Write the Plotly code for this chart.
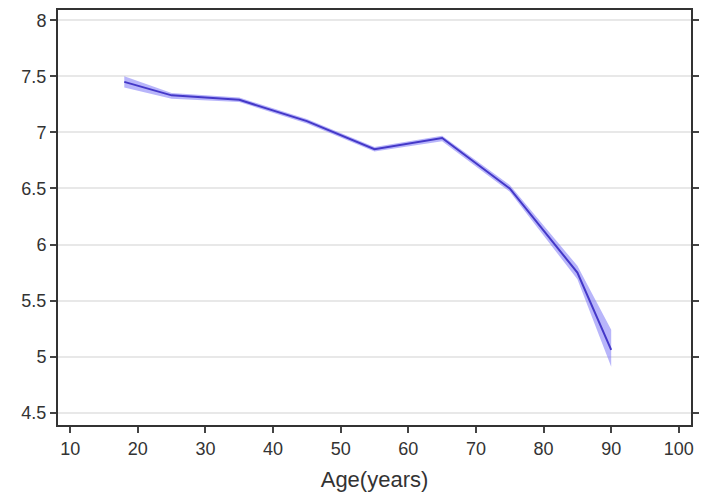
import plotly.graph_objects as go

age = [18, 25, 35, 45, 55, 65, 75, 85, 90]
mean_val = [7.45, 7.33, 7.29, 7.10, 6.85, 6.95, 6.50, 5.75, 5.06]
upper = [7.50, 7.35, 7.31, 7.12, 6.87, 6.97, 6.53, 5.81, 5.24]
lower = [7.40, 7.30, 7.27, 7.08, 6.83, 6.92, 6.47, 5.69, 4.91]

x_ticks = [10, 20, 30, 40, 50, 60, 70, 80, 90, 100]
y_ticks = [4.5, 5, 5.5, 6, 6.5, 7, 7.5, 8]
y_tick_text = ["4.5", "5", "5.5", "6", "6.5", "7", "7.5", "8"]

fig = go.Figure()
fig.add_trace(go.Scatter(x=age, y=lower, mode="lines", line=dict(width=0),
                         showlegend=False, hoverinfo="skip"))
fig.add_trace(go.Scatter(x=age, y=upper, mode="lines", line=dict(width=0),
                         fill="tonexty", fillcolor="rgba(125,120,245,0.55)",
                         showlegend=False, hoverinfo="skip"))
fig.add_trace(go.Scatter(x=age, y=mean_val, mode="lines",
                         line=dict(color="#4438c8", width=2), showlegend=False))

fig.update_layout(
    width=728, height=502,
    margin=dict(l=50, r=45, t=0, b=85),
    paper_bgcolor="white", plot_bgcolor="white",
    font=dict(family="Liberation Sans, Arial, sans-serif", color="#333333", size=18),
)
fig.update_xaxes(
    range=[8.2, 101.8], tickvals=x_ticks, ticks="outside", ticklen=6, tickwidth=1.5,
    tickcolor="#444444", showline=True, linecolor="#333333", linewidth=2, mirror=True,
    showgrid=False, zeroline=False, tickfont=dict(size=18),
    title=dict(text="Age(years)", font=dict(size=22), standoff=14),
)
fig.update_yaxes(
    range=[4.391, 8.091], tickvals=y_ticks, ticktext=y_tick_text, ticks="outside", ticklen=6,
    tickwidth=1.5, tickcolor="#444444", showline=True, linecolor="#333333", linewidth=2,
    mirror="ticks", showgrid=True, gridcolor="#e8e8e8", gridwidth=1.5, zeroline=False,
    tickfont=dict(size=18),
)
fig.write_html("out.html")
